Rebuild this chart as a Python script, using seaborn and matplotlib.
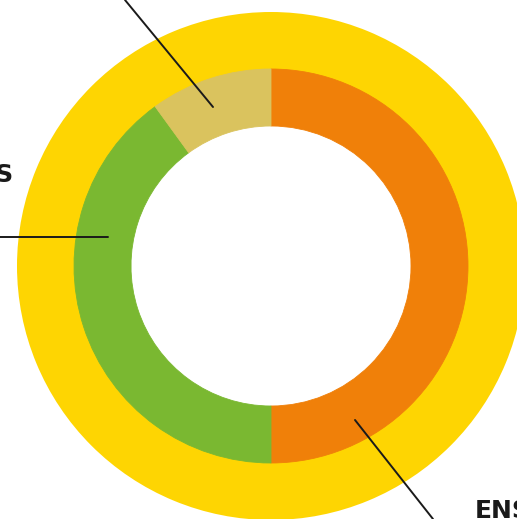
import matplotlib
matplotlib.use("Agg")
import matplotlib.pyplot as plt
import seaborn as sns

# inner ring shares (clockwise from top)
segments = ["ENSEIGNANTS", "ÉLÈVES", "PARENTS"]
shares = [50, 40, 10]
inner_colors = ["#F08009", "#7AB831", "#DAC35E"]
outer_share = [100]
outer_color = ["#FED502"]

sns.set_theme(style="white")
plt.rcParams["font.family"] = ["DejaVu Sans"]

W, H = 517, 519
fig = plt.figure(figsize=(W / 100, H / 100), dpi=100)
ax = fig.add_axes([0, 0, 1, 1])

cx, cy = 271, 253
ax.pie(outer_share, colors=outer_color, radius=254, center=(cx, cy),
       wedgeprops=dict(width=61, linewidth=0))
wedges, _ = ax.pie(shares, colors=inner_colors, radius=197, center=(cx, cy),
                   startangle=90, counterclock=False,
                   wedgeprops=dict(width=57, linewidth=0.6))
for w, c in zip(wedges, inner_colors):
    w.set_edgecolor(c)

# leader lines and labels (cropped by the frame, as in the reference)
line_kw = dict(color="#1a1a1a", lw=1.4)
ax.plot([355, 433], [99, 0], **line_kw)
ax.plot([-5, 108], [282, 282], **line_kw)
ax.plot([125, 213], [519, 412], **line_kw)

txt_kw = dict(fontsize=18, fontweight="bold", color="#1a1a1a")
ax.text(475, 1, segments[0], ha="left", va="baseline", **txt_kw)
ax.text(14, 337, segments[1], ha="right", va="baseline", **txt_kw)
ax.text(110, 560, segments[2], ha="right", va="baseline", **txt_kw)

ax.set_xlim(0, W)
ax.set_ylim(0, H)
ax.set_aspect("equal")
ax.axis("off")

fig.savefig("out.png", dpi=100)
